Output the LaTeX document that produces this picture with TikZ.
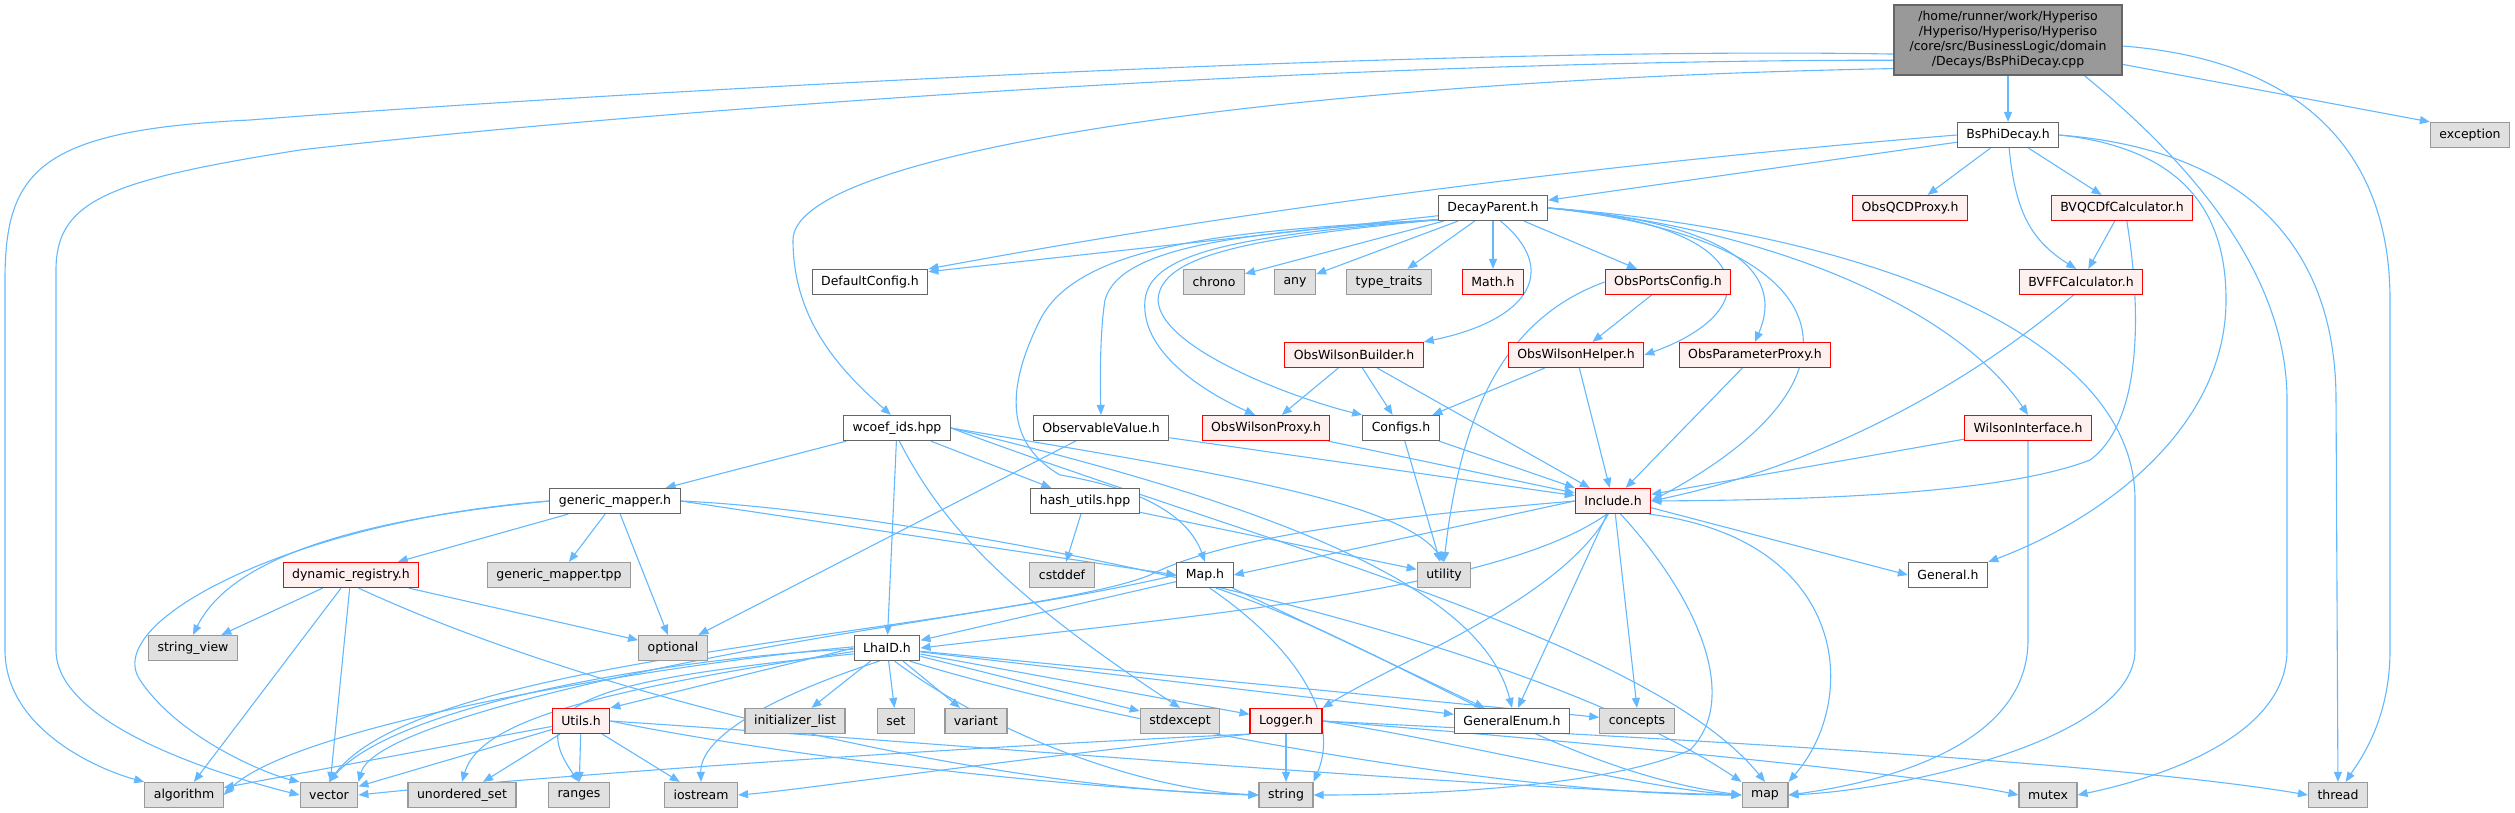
\documentclass[tikz,border=0pt]{standalone}
\usepackage{fontspec}
\setmainfont{DejaVu Sans}
\usetikzlibrary{arrows.meta}
\pgfdeclarelayer{background}
\pgfsetlayers{background,main}
\definecolor{edgeblue}{RGB}{99,184,255}
\definecolor{boxgray}{RGB}{102,102,102}
\definecolor{sysfill}{RGB}{224,224,224}
\definecolor{sysdraw}{RGB}{153,153,153}
\definecolor{redfill}{RGB}{255,240,240}
\definecolor{maingray}{RGB}{153,153,153}

\begin{document}
\begin{tikzpicture}[x=1pt, y=-1pt,
  file/.style={draw=boxgray, fill=white, line width=1.2pt, minimum height=25pt, inner xsep=9pt, inner ysep=0pt, font=\fontsize{12.5}{15}\selectfont},
  redfile/.style={file, draw=red, fill=redfill},
  sysfile/.style={file, draw=sysdraw, fill=sysfill},
  dep/.style={-{Triangle[length=10pt,width=8pt]}, edgeblue, line width=1.1pt},
]
  \useasboundingbox (0,0) rectangle (2515,813);

  % File being documented
  \node[file, fill=maingray, minimum width=228pt, minimum height=70pt, align=center] (main) at (2008,40)
    {/home/runner/work/Hyperiso\\/Hyperiso/Hyperiso/Hyperiso\\/core/src/BusinessLogic/domain\\/Decays/BsPhiDecay.cpp};

  % Project headers
  \node[file] (bsphi) at (2008,135) {BsPhiDecay.h};
  \node[file] (decay) at (1493,208) {DecayParent.h};
  \node[redfile] (qcdproxy) at (1910,208) {ObsQCDProxy.h};
  \node[redfile] (bvqcd) at (2122,208) {BVQCDfCalculator.h};
  \node[file] (defcfg) at (870,282) {DefaultConfig.h};
  \node[redfile] (math) at (1493,282) {Math.h};
  \node[redfile] (portscfg) at (1668,282) {ObsPortsConfig.h};
  \node[redfile] (bvff) at (2081,282) {BVFFCalculator.h};
  \node[redfile] (builder) at (1354,355) {ObsWilsonBuilder.h};
  \node[redfile] (helper) at (1576,355) {ObsWilsonHelper.h};
  \node[redfile] (paramproxy) at (1755,355) {ObsParameterProxy.h};
  \node[file] (wcoef) at (897,428) {wcoef\_ids.hpp};
  \node[file] (obsval) at (1101,428) {ObservableValue.h};
  \node[redfile] (wproxy) at (1266,428) {ObsWilsonProxy.h};
  \node[file] (configs) at (1401,428) {Configs.h};
  \node[redfile] (wilsonif) at (2028,428) {WilsonInterface.h};
  \node[file] (generic) at (615,501) {generic\_mapper.h};
  \node[file] (hash) at (1085,501) {hash\_utils.hpp};
  \node[redfile] (include) at (1613,501) {Include.h};
  \node[redfile] (dynreg) at (351,575) {dynamic\_registry.h};
  \node[file] (maph) at (1205,575) {Map.h};
  \node[file] (general) at (1948,575) {General.h};
  \node[file] (lhaid) at (887,648) {LhaID.h};
  \node[redfile] (utils) at (581,721) {Utils.h};
  \node[redfile] (logger) at (1286,721) {Logger.h};
  \node[file] (genenum) at (1512,721) {GeneralEnum.h};

  % System headers
  \node[sysfile] (exception) at (2470,135) {exception};
  \node[sysfile] (chrono) at (1214,282) {chrono};
  \node[sysfile] (any) at (1295,282) {any};
  \node[sysfile] (typetraits) at (1389,282) {type\_traits};
  \node[sysfile] (tpp) at (559,575) {generic\_mapper.tpp};
  \node[sysfile] (cstddef) at (1062,575) {cstddef};
  \node[sysfile] (utility) at (1444,575) {utility};
  \node[sysfile] (stringview) at (193,648) {string\_view};
  \node[sysfile] (optional) at (673,648) {optional};
  \node[sysfile] (initlist) at (795,721) {initializer\_list};
  \node[sysfile] (set) at (896,721) {set};
  \node[sysfile] (variant) at (976,721) {variant};
  \node[sysfile] (stdexcept) at (1180,721) {stdexcept};
  \node[sysfile] (concepts) at (1637,721) {concepts};
  \node[sysfile] (algorithm) at (184,795) {algorithm};
  \node[sysfile] (vector) at (329,795) {vector};
  \node[sysfile] (uset) at (462,795) {unordered\_set};
  \node[sysfile] (ranges) at (579,795) {ranges};
  \node[sysfile] (iostream) at (701,795) {iostream};
  \node[sysfile] (string) at (1286,795) {string};
  \node[sysfile] (map) at (1765,795) {map};
  \node[sysfile] (mutex) at (2048,795) {mutex};
  \node[sysfile] (thread) at (2338,795) {thread};

  \begin{pgfonlayer}{background}
  % BsPhiDecay.cpp
  \draw[dep] (main) -- (bsphi);
  \draw[dep] (main.-12) -- (exception.north west);
  \draw[dep] (main.187) .. controls (1400,45) and (500,100) .. (250,120) .. controls (40,130) and (5,170) .. (5,280) -- (5,650) .. controls (5,730) and (100,770) .. (algorithm.north west);
  \draw[dep] (main.190) .. controls (1300,60) and (600,115) .. (300,150) .. controls (110,180) and (56,200) .. (56,270) -- (56,650) .. controls (56,720) and (200,770) .. (vector.west);
  \draw[dep] (main.194) .. controls (1300,80) and (793,150) .. (793,240) .. controls (793,320) and (840,370) .. (wcoef.115);
  \draw[dep] (main.-25) .. controls (2200,170) and (2287,280) .. (2287,400) -- (2287,650) .. controls (2287,740) and (2150,780) .. (mutex.east);
  \draw[dep] (main.-3) .. controls (2300,60) and (2390,150) .. (2390,300) -- (2390,650) .. controls (2390,720) and (2360,760) .. (thread.60);

  % BsPhiDecay.h
  \draw[dep] (bsphi) -- (decay);
  \draw[dep] (bsphi.west) .. controls (1650,160) and (1300,200) .. (defcfg.north east);
  \draw[dep] (bsphi) -- (qcdproxy);
  \draw[dep] (bsphi) -- (bvqcd);
  \draw[dep] (bsphi.-85) .. controls (2015,210) and (2030,240) .. (bvff.110);
  \draw[dep] (bsphi.east) .. controls (2200,150) and (2226,230) .. (2226,300) .. controls (2226,430) and (2100,520) .. (general.north east);
  \draw[dep] (bsphi.east) .. controls (2250,150) and (2336,250) .. (2336,400) -- (thread);
  \draw[dep] (bvqcd) -- (bvff);

  % DecayParent.h
  \draw[dep] (decay.188) -- (defcfg.10);
  \draw[dep] (decay) -- (chrono);
  \draw[dep] (decay) -- (any);
  \draw[dep] (decay) -- (typetraits);
  \draw[dep] (decay) -- (math);
  \draw[dep] (decay) -- (portscfg);
  \draw[dep] (decay.-60) .. controls (1560,270) and (1530,320) .. (builder.north east);
  \draw[dep] (decay.east) .. controls (1760,225) and (1770,310) .. (helper.east);
  \draw[dep] (decay.east) .. controls (1700,220) and (1790,260) .. (paramproxy.north);
  \draw[dep] (decay.east) .. controls (1750,225) and (1950,300) .. (wilsonif.north);
  \draw[dep] (decay.east) .. controls (1850,240) and (1880,380) .. (include.east);
  \draw[dep] (decay.east) .. controls (1850,230) and (2135,330) .. (2135,500) -- (2135,650) .. controls (2135,740) and (1900,790) .. (map.east);
  \draw[dep] (decay.192) .. controls (1250,232) and (1120,245) .. (1105,300) .. controls (1100,330) and (1100,380) .. (obsval.north);
  \draw[dep] (decay.192) .. controls (1250,235) and (1150,250) .. (1145,300) .. controls (1140,350) and (1200,390) .. (wproxy.130);
  \draw[dep] (decay.192) .. controls (1250,238) and (1160,255) .. (1158,300) .. controls (1160,350) and (1300,400) .. (configs.north west);
  \draw[dep] (decay.192) .. controls (1250,230) and (1080,240) .. (1040,320) .. controls (1010,380) and (1000,440) .. (1060,475) .. controls (1150,490) and (1190,520) .. (maph.north);

  % Observables and Wilson coefficients
  \draw[dep] (portscfg) -- (helper);
  \draw[dep] (portscfg.west) .. controls (1500,320) and (1460,420) .. (utility.north);
  \draw[dep] (builder) -- (wproxy);
  \draw[dep] (builder) -- (configs);
  \draw[dep] (builder) -- (include);
  \draw[dep] (helper) -- (configs);
  \draw[dep] (helper) -- (include);
  \draw[dep] (paramproxy) -- (include);
  \draw[dep] (wproxy) -- (include);
  \draw[dep] (configs) -- (include);
  \draw[dep] (configs) -- (utility);
  \draw[dep] (obsval) -- (include);
  \draw[dep] (obsval) -- (optional);
  \draw[dep] (wilsonif) -- (include);
  \draw[dep] (wilsonif.south) -- (2028,640) .. controls (2028,740) and (1900,780) .. (map.east);
  \draw[dep] (bvff.-120) .. controls (1950,400) and (1800,470) .. (include.east);
  \draw[dep] (bvqcd.-70) .. controls (2140,300) and (2145,420) .. (2090,460) .. controls (2000,495) and (1800,500) .. (include.east);

  % wcoef_ids.hpp
  \draw[dep] (wcoef) -- (generic);
  \draw[dep] (wcoef) -- (lhaid);
  \draw[dep] (wcoef.-80) .. controls (940,520) and (1000,590) .. (stdexcept.north);
  \draw[dep] (wcoef) -- (hash);
  \draw[dep] (wcoef.east) .. controls (1200,470) and (1400,500) .. (utility.north);
  \draw[dep] (wcoef.east) .. controls (1250,500) and (1480,580) .. (genenum.north);
  \draw[dep] (wcoef.east) .. controls (1250,540) and (1650,640) .. (map.north);
  \draw[dep] (hash) -- (cstddef);
  \draw[dep] (hash) -- (utility);

  % generic_mapper.h and dynamic_registry.h
  \draw[dep] (generic) -- (dynreg);
  \draw[dep] (generic) -- (tpp);
  \draw[dep] (generic) -- (optional);
  \draw[dep] (generic.west) .. controls (350,520) and (230,560) .. (stringview.north);
  \draw[dep] (generic.west) .. controls (300,520) and (100,620) .. (140,680) .. controls (180,740) and (270,775) .. (vector.north west);
  \draw[dep] (generic.east) -- (maph.west);
  \draw[dep] (generic.east) .. controls (900,510) and (1500,620) .. (map.north west);
  \draw[dep] (dynreg) -- (stringview);
  \draw[dep] (dynreg) -- (optional);
  \draw[dep] (dynreg) -- (algorithm);
  \draw[dep] (dynreg) -- (vector);
  \draw[dep] (dynreg.-60) .. controls (600,700) and (1000,790) .. (string.west);

  % Include.h
  \draw[dep] (include.west) -- (maph.east);
  \draw[dep] (include.-115) .. controls (1500,590) and (1200,615) .. (lhaid.east);
  \draw[dep] (include.-110) .. controls (1560,600) and (1400,660) .. (logger.north east);
  \draw[dep] (include) -- (genenum);
  \draw[dep] (include.-80) -- (concepts.north);
  \draw[dep] (include.-60) .. controls (1700,600) and (1740,700) .. (1690,750) .. controls (1600,790) and (1400,795) .. (string.east);
  \draw[dep] (include.-20) .. controls (1850,540) and (1860,700) .. (map.north east);
  \draw[dep] (include.-10) -- (general.west);
  \draw[dep] (include.west) .. controls (1350,520) and (1220,540) .. (1150,575) .. controls (1090,600) and (900,620) .. (700,660) .. controls (500,700) and (370,740) .. (vector.north east);

  % Map.h
  \draw[dep] (maph) -- (lhaid);
  \draw[dep] (maph.west) .. controls (900,640) and (420,660) .. (vector.north);
  \draw[dep] (maph) -- (genenum);
  \draw[dep] (maph.-70) .. controls (1300,650) and (1340,720) .. (string.north east);
  \draw[dep] (maph.-50) .. controls (1400,650) and (1550,770) .. (map.west);

  % LhaID.h
  \draw[dep] (lhaid.west) -- (utils.north east);
  \draw[dep] (lhaid) -- (initlist);
  \draw[dep] (lhaid) -- (set);
  \draw[dep] (lhaid) -- (variant);
  \draw[dep] (lhaid) -- (stdexcept);
  \draw[dep] (lhaid) -- (logger);
  \draw[dep] (lhaid) -- (genenum);
  \draw[dep] (lhaid) -- (concepts);
  \draw[dep] (lhaid.-60) .. controls (1000,740) and (1150,790) .. (string.west);
  \draw[dep] (lhaid.-30) .. controls (1100,720) and (1500,795) .. (map.west);
  \draw[dep] (lhaid.178) .. controls (700,660) and (300,720) .. (algorithm.east);
  \draw[dep] (lhaid.182) .. controls (700,655) and (400,700) .. (vector.north);
  \draw[dep] (lhaid.186) .. controls (600,690) and (480,720) .. (uset.north);
  \draw[dep] (lhaid.190) .. controls (600,680) and (520,700) .. (ranges.north);
  \draw[dep] (lhaid.-120) .. controls (760,700) and (700,740) .. (iostream.north);

  % Utils.h
  \draw[dep] (utils) -- (algorithm);
  \draw[dep] (utils) -- (vector);
  \draw[dep] (utils) -- (uset);
  \draw[dep] (utils) -- (ranges);
  \draw[dep] (utils) -- (iostream);
  \draw[dep] (utils.east) .. controls (800,760) and (1100,790) .. (string.west);
  \draw[dep] (utils.east) .. controls (900,740) and (1500,790) .. (map.west);

  % Logger.h
  \draw[dep] (logger) -- (string);
  \draw[dep] (logger.south west) .. controls (1000,760) and (800,790) .. (iostream.east);
  \draw[dep] (logger.south west) .. controls (900,750) and (500,780) .. (vector.east);
  \draw[dep] (logger.east) .. controls (1450,740) and (1650,790) .. (map.west);
  \draw[dep] (logger.east) .. controls (1500,735) and (1900,770) .. (mutex.west);
  \draw[dep] (logger.east) .. controls (1600,735) and (2100,760) .. (thread.west);
  \end{pgfonlayer}
\end{tikzpicture}
\end{document}
